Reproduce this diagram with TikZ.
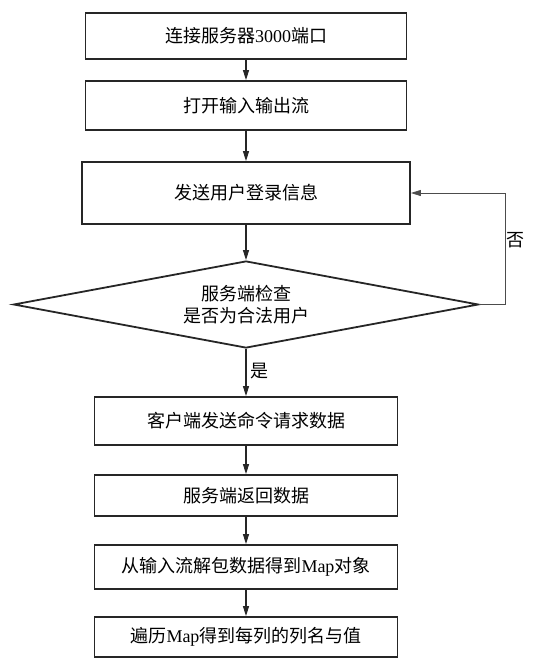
\documentclass[tikz,border=0pt]{standalone}
\usepackage{fontspec}
\setmainfont{Noto Sans CJK SC}
\newfontfamily\lat{Liberation Serif}
\usetikzlibrary{shapes.geometric,arrows.meta}
\begin{document}
\begin{tikzpicture}[x=1pt,y=-1pt,
  box/.style={draw=black!85, line width=1.8pt, rectangle, inner sep=0pt,
    font=\fontsize{18}{22}\selectfont},
  dia/.style={draw=black!85, line width=1.8pt, diamond, aspect=5.3, inner sep=0pt,
    minimum width=465pt, minimum height=87pt, align=center,
    font=\fontsize{18}{22}\selectfont},
  arr/.style={-{Triangle[length=10pt,width=6pt]}, line width=1.1pt, draw=black!85},
  fbline/.style={-{Triangle[length=10pt,width=6pt]}, line width=0.8pt, draw=black!70},
  lbl/.style={inner sep=0pt, font=\fontsize{18}{22}\selectfont}]
\useasboundingbox (0,0) rectangle (557,664);
\node[box, minimum width=321pt, minimum height=46pt] (b1) at (246,36) {连接服务器{\lat 3000}端口};
\node[box, minimum width=321pt, minimum height=49pt] (b2) at (246,105.5) {打开输入输出流};
\node[box, minimum width=328pt, minimum height=62pt] (b3) at (246,193) {发送用户登录信息};
\node[dia] (d) at (246,304.5) {服务端检查\\是否为合法用户};
\node[box, minimum width=303pt, minimum height=48pt] (b4) at (246,421) {客户端发送命令请求数据};
\node[box, minimum width=303pt, minimum height=41pt] (b5) at (246,495.5) {服务端返回数据};
\node[box, minimum width=303pt, minimum height=44pt] (b6) at (246,567) {从输入流解包数据得到{\lat Map}对象};
\node[box, minimum width=303pt, minimum height=40pt] (b7) at (246,637) {遍历{\lat Map}得到每列的列名与值};
\coordinate (fb) at (505,304.5);
\draw[arr] (b1) -- (b2);
\draw[arr] (b2) -- (b3);
\draw[arr] (b3) -- (d);
\draw[arr] (d) -- (b4);
\draw[arr] (b4) -- (b5);
\draw[arr] (b5) -- (b6);
\draw[arr] (b6) -- (b7);
\draw[fbline] (d.east) -- (fb) |- (b3.east);
\node[lbl] (no) at (515,240) {否};
\node[lbl] (yes) at (259,371) {是};
\end{tikzpicture}
\end{document}
